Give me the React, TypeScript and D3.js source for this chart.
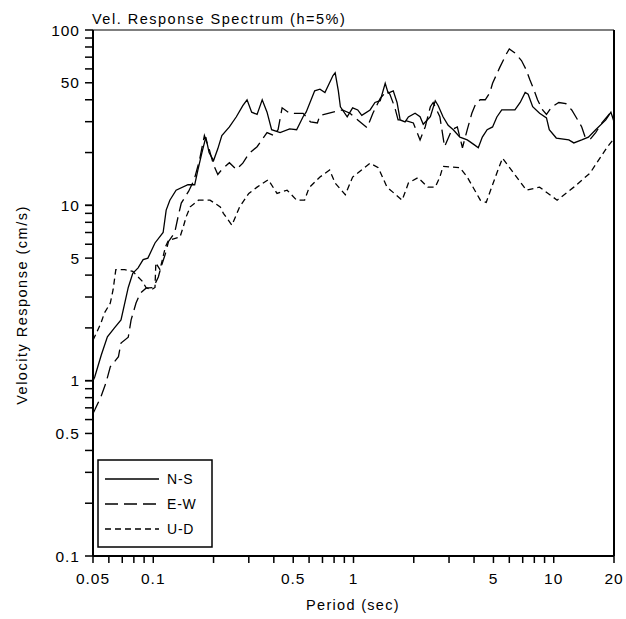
import React from "react";
import * as d3 from "d3";

const nsPeriod = [0.05,0.051,0.055,0.059,0.064,0.069,0.075,0.079,0.084,0.089,0.094,0.102,0.112,0.116,0.121,0.13,0.149,0.161,0.167,0.175,0.183,0.19,0.2,0.21,0.22,0.24,0.26,0.28,0.294,0.31,0.33,0.35,0.37,0.39,0.43,0.48,0.52,0.56,0.58,0.64,0.68,0.72,0.79,0.81,0.84,0.86,0.93,0.99,1.05,1.1,1.21,1.28,1.36,1.44,1.49,1.58,1.65,1.71,1.81,1.88,2.03,2.15,2.23,2.42,2.56,2.65,2.8,2.97,3.15,3.4,3.7,4.0,4.2,4.4,4.65,4.95,5.2,5.5,6.4,6.8,7.2,7.45,7.85,8.5,9.2,9.5,10.3,11.9,12.6,13.8,14.9,16.2,18.2,19.3,20];
const nsVel = [1.0,1.05,1.4,1.78,2.0,2.22,3.4,4.1,4.4,4.9,5.0,6.1,7.0,9.4,10.7,12.2,13.1,13.1,15.9,20,24.5,20,18,21,25,28,32,37,40,34,33,40,34,27,26,27.3,27,32,34,45,46,44,55,57,45,36.5,32,36,35,32.6,35,38.6,39.5,49.7,43.6,45,38.6,30.7,29.9,31.9,33.5,32,29,32,39.5,37,32,28.6,27,24.5,23.6,22.2,21.3,24.5,27,28,31.9,35,35,38.6,44,43,36.5,33.5,31.5,27,24.2,23.6,22.7,23.6,24.5,27,30.7,34,30];

const ewPeriod = [0.05,0.051,0.0548,0.058,0.061,0.067,0.069,0.075,0.0775,0.082,0.086,0.092,0.1,0.106,0.109,0.115,0.119,0.128,0.133,0.138,0.15,0.16,0.17,0.18,0.19,0.2,0.21,0.22,0.24,0.26,0.28,0.3,0.33,0.37,0.4,0.42,0.44,0.48,0.56,0.61,0.66,0.68,0.79,0.88,0.96,1.05,1.17,1.25,1.36,1.47,1.52,1.61,1.67,1.77,1.99,2.15,2.28,2.42,2.5,2.7,2.85,3.1,3.3,3.5,3.7,3.9,4.1,4.3,4.55,4.8,4.95,5.37,5.8,6.0,6.4,6.9,7.3,7.6,8.0,8.3,8.8,9.2,9.8,10.6,11.5,12.3,13,13.8,14.4,15.3,16.2,17.4,19.3,20];
const ewVel = [0.65,0.68,0.81,0.97,1.2,1.37,1.64,1.77,2.22,2.77,3.15,3.37,3.4,3.9,4.4,5.3,6.2,7.0,8.6,10.3,12,14,18,25,21,17,15,16,17.5,16,17.4,19.7,21.6,26,25,27,36,33.5,33.5,29.9,29.5,32.6,34,35,33.5,30.7,27.7,33.5,40.8,45,43,36,30.7,30.7,29.5,23.6,28,36.5,38.6,32,21.6,27,28,21.3,27,33.5,38.6,40,40,44,49.7,61,73,78,74,67,59,52,45,40,35,33,36.5,38.6,38,35,31.5,28,24.2,24,26,29.5,34,32];

const udPeriod = [0.05,0.052,0.0548,0.057,0.061,0.063,0.065,0.072,0.079,0.084,0.088,0.092,0.098,0.102,0.103,0.108,0.115,0.119,0.136,0.141,0.146,0.153,0.168,0.192,0.216,0.224,0.247,0.27,0.3,0.33,0.375,0.415,0.466,0.52,0.57,0.6,0.68,0.76,0.81,0.91,0.99,1.21,1.33,1.47,1.75,1.88,2.1,2.35,2.56,2.7,2.8,3.4,3.7,4.3,4.6,5.2,5.55,6.3,7.3,8.5,10.4,12.6,15.2,18.5,20];
const udVel = [1.7,1.87,2.13,2.43,2.77,3.3,4.3,4.3,4.2,3.9,3.7,3.4,3.3,3.4,4.7,4.3,5.8,6.3,6.6,7.5,8.6,9.8,10.7,10.7,9.8,9.0,7.7,9.8,11.7,12.7,14,11.7,12.2,10.7,10.7,12.6,14.5,15.9,13.4,11.5,14.5,17.4,16.4,12.7,10.7,13.4,14.4,12.7,12.7,14.5,16.7,16.4,14.5,10.7,10.4,15.3,18.6,15.3,12.2,12.7,10.7,12.7,15.3,21.5,24];

const seriesNames = ["N-S", "E-W", "U-D"];
const xTickLabels = [0.05, 0.1, 0.5, 1, 5, 10, 20];
const yTickLabels = [0.1, 0.5, 1, 5, 10, 50, 100];
const titleText = "Vel. Response Spectrum (h=5%)";
const xAxisTitle = "Period (sec)";
const yAxisTitle = "Velocity Response (cm/s)";

const W = 626, H = 619;
const L = 93, R = 614, T = 30, B = 556;
const FONT = "'Liberation Sans', Arial, sans-serif";

export default function App() {
  const x = d3.scaleLog().domain([0.05, 20]).range([L, R]);
  const y = d3.scaleLog().domain([0.1, 100]).range([B, T]);

  const minorX: number[] = [];
  [0.01, 0.1, 1, 10].forEach((d) => {
    for (let k = 1; k <= 9; k++) {
      const v = +(k * d).toPrecision(6);
      if (v >= 0.05 && v <= 20) minorX.push(v);
    }
  });
  const minorY: number[] = [];
  [0.1, 1, 10].forEach((d) => {
    for (let k = 1; k <= 10; k++) {
      const v = +(k * d).toPrecision(6);
      if (v >= 0.1 && v <= 100) minorY.push(v);
    }
  });

  const line = d3.line<[number, number]>().x((d) => x(d[0])).y((d) => y(d[1]));
  const mk = (p: number[], v: number[]) => line(p.map((t, i) => [t, v[i]] as [number, number])) || "";

  const series = [
    { name: seriesNames[0], d: mk(nsPeriod, nsVel), dash: "none" },
    { name: seriesNames[1], d: mk(ewPeriod, ewVel), dash: "13,6" },
    { name: seriesNames[2], d: mk(udPeriod, udVel), dash: "6,4" },
  ];

  return (
    <svg width={W} height={H} style={{ position: "absolute", left: 0, top: 0, background: "#fff" }} fontFamily={FONT}>
      <rect x={0} y={0} width={W} height={H} fill="#fff" />
      <text x={L - 1} y={24} fontSize={14.5} letterSpacing={1.5} fill="#000">{titleText}</text>

      {series.map((s) => (
        <path key={s.name} d={s.d} fill="none" stroke="#000" strokeWidth={1.3} strokeDasharray={s.dash} />
      ))}

      {/* frame */}
      <line x1={L} x2={R} y1={T} y2={T} stroke="#000" strokeWidth={1.2} />
      <line x1={R} x2={R} y1={T} y2={B} stroke="#000" strokeWidth={2} />
      <line x1={L} x2={L} y1={T} y2={B} stroke="#000" strokeWidth={2} />
      <line x1={L} x2={R} y1={B} y2={B} stroke="#000" strokeWidth={2} />

      {minorX.map((v) => (
        <line key={"mx" + v} x1={x(v)} x2={x(v)} y1={B} y2={B + 7} stroke="#000" strokeWidth={1.5} />
      ))}
      {minorY.map((v) => (
        <line key={"my" + v} x1={L - 8} x2={L} y1={y(v)} y2={y(v)} stroke="#000" strokeWidth={1.5} />
      ))}

      {xTickLabels.map((v) => (
        <text key={"xl" + v} x={x(v)} y={584} fontSize={15.5} letterSpacing={1} textAnchor="middle" fill="#000">{String(v)}</text>
      ))}
      {yTickLabels.map((v) => (
        <text key={"yl" + v} x={80} y={y(v) + 5.5} fontSize={15.5} letterSpacing={1} textAnchor="end" fill="#000">{String(v)}</text>
      ))}

      <text x={353} y={610} fontSize={14.5} letterSpacing={1.3} textAnchor="middle" fill="#000">{xAxisTitle}</text>
      <text transform={`translate(27,${(T + B) / 2 + 12}) rotate(-90)`} fontSize={14.5} letterSpacing={1.5} textAnchor="middle" fill="#000">{yAxisTitle}</text>

      {/* legend */}
      <rect x={98} y={460} width={114} height={87} fill="#fff" stroke="#000" strokeWidth={1.5} />
      {series.map((s, i) => (
        <g key={"lg" + s.name}>
          <line x1={105} x2={159} y1={479 + i * 25} y2={479 + i * 25} stroke="#000" strokeWidth={1.4} strokeDasharray={s.dash} />
          <text x={167} y={484 + i * 25} fontSize={14} letterSpacing={0.8} fill="#000">{s.name}</text>
        </g>
      ))}
    </svg>
  );
}
